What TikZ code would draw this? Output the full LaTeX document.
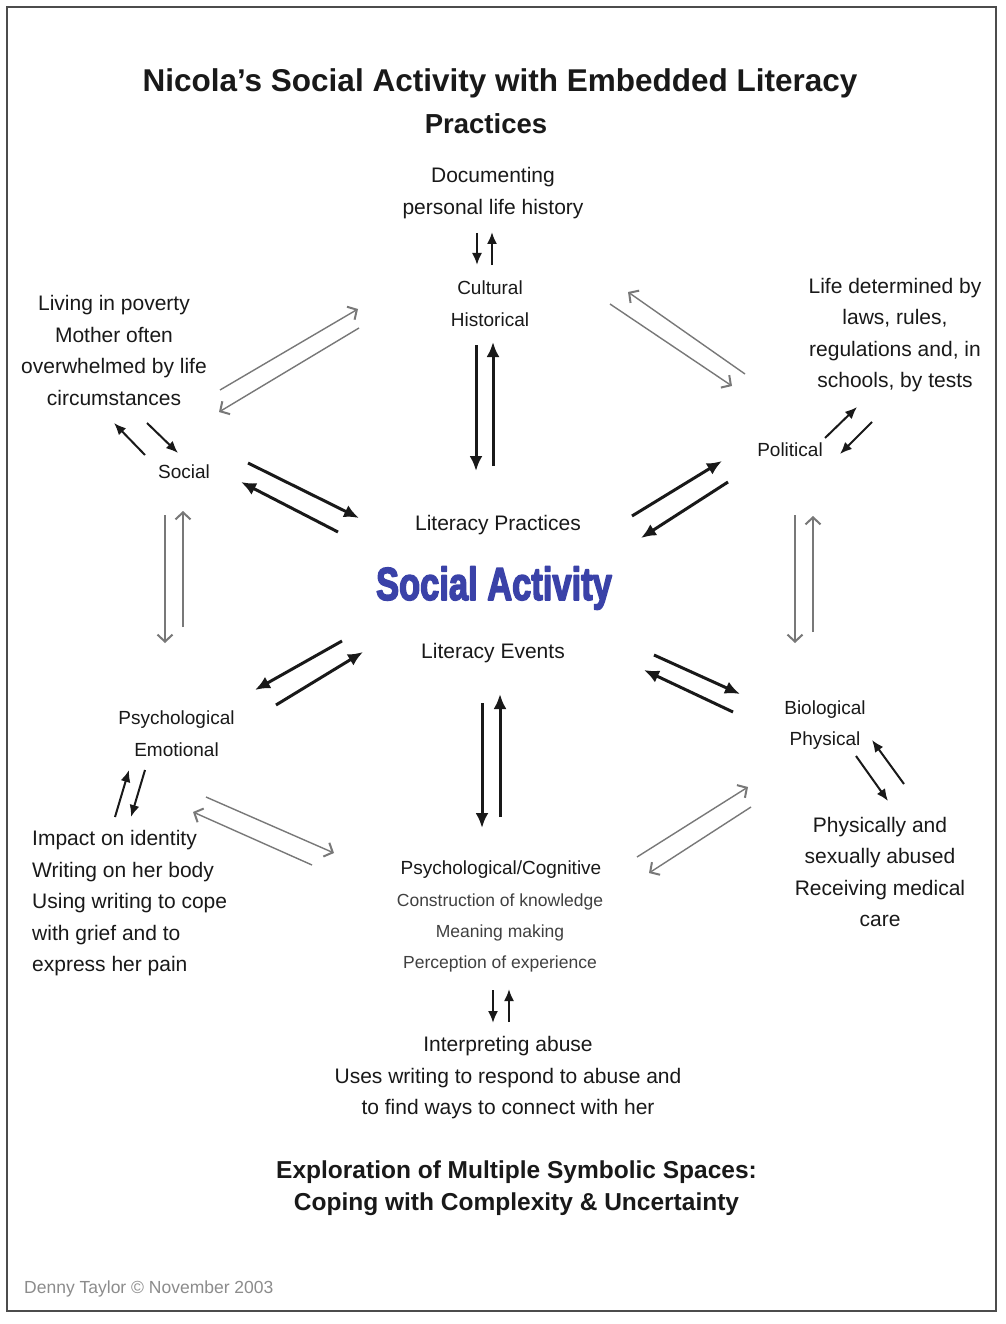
\documentclass[tikz,border=0pt]{standalone}
\usepackage{fontspec}
\setmainfont{Liberation Sans}
\usetikzlibrary{arrows.meta}
\definecolor{sablue}{RGB}{58,66,168}
\definecolor{arrgray}{RGB}{120,120,120}
\definecolor{txtcol}{RGB}{25,25,25}
\newcommand{\heavytext}[1]{\special{pdf:literal 2 Tr 1.8 w 1 j}#1\special{pdf:literal 0 Tr}}
\begin{document}
\begin{tikzpicture}[x=1pt,y=-1pt,
  txt/.style={inner sep=0pt, align=center, text=txtcol, font=\fontsize{21}{31.5}\selectfont},
  lbl/.style={inner sep=0pt, align=center, text=txtcol, font=\fontsize{19}{31.5}\selectfont},
  sub/.style={inner sep=0pt, align=center, text=black!75, font=\fontsize{17.5}{31.2}\selectfont},
  thickarr/.style={line width=3pt, draw=black!90, -{Latex[length=15pt,width=13pt]}},
  smallarr/.style={line width=2pt, draw=black!90, -{Latex[length=12pt,width=10pt]}},
  grayarr/.style={line width=1.4pt, draw=arrgray, -{Straight Barb[length=7pt,width=15pt,line width=2pt]}}
]
\useasboundingbox (0,0) rectangle (1005,1324);
\fill[white] (0,0) rectangle (1005,1324);
\draw[line width=2pt, draw=black!70] (7,7) rectangle (996,1311);

% titles
\node[inner sep=0pt, text=txtcol, font=\bfseries\fontsize{31.5}{36}\selectfont] (title1) at (500,83) {Nicola’s Social Activity with Embedded Literacy};
\node[inner sep=0pt, text=txtcol, font=\bfseries\fontsize{27.5}{32}\selectfont] (title2) at (486,124) {Practices};

% centre
\node[txt] (litprac) at (498,525) {Literacy Practices};
\node[inner sep=0pt, text=sablue, font=\bfseries\fontsize{46}{50}\selectfont, xscale=0.75] (socact) at (494,588) {\heavytext{Social Activity}};
\node[txt] (litev) at (493,653) {Literacy Events};

% top
\node[txt] (doc) at (493,193) {Documenting\\personal life history};
\node[lbl] (cult) at (490,303.5) {Cultural\\Historical};

% top left
\node[txt] (pov) at (114,350.5) {Living in poverty\\Mother often\\overwhelmed by life\\circumstances};
\node[lbl] (social) at (184,472) {Social};

% left
\node[lbl] (psych) at (176.5,733.5) {Psychological\\Emotional};
\node[txt, anchor=west, align=left] (ident) at (32,903.5) {Impact on identity\\Writing on her body\\Using writing to cope\\with grief and to\\express her pain};

% top right
\node[txt] (laws) at (895,335) {Life determined by\\laws, rules,\\regulations and, in\\schools, by tests};
\node[lbl] (pol) at (790,450) {Political};

% right
\node[lbl] (bio) at (825,725) {Biological\\Physical};
\node[txt] (abused) at (880,872) {Physically and\\sexually abused\\Receiving medical\\care};

% bottom
\node[lbl] (cog) at (501,870) {Psychological/Cognitive};
\node[sub] (cogsub) at (500,933) {Construction of knowledge\\Meaning making\\Perception of experience};
\node[txt] (interp) at (508,1078) {Interpreting abuse\\Uses writing to respond to abuse and\\to find ways to connect with her};

\node[inner sep=0pt, align=center, text=txtcol, font=\bfseries\fontsize{24.5}{32}\selectfont] (explore) at (516.5,1188) {Exploration of Multiple Symbolic Spaces:\\Coping with Complexity \& Uncertainty};

\node[inner sep=0pt, anchor=west, text=black!45, font=\fontsize{17.5}{20}\selectfont] (footer) at (24,1289) {Denny Taylor © November 2003};

% small arrows
\draw[smallarr] (477,233) coordinate (d1a) -- (477,265) coordinate (d1b);
\draw[smallarr] (492,265) coordinate (d2a) -- (492,232) coordinate (d2b);
\draw[smallarr] (145,455) coordinate (s1a) -- (114,423) coordinate (s1b);
\draw[smallarr] (147,423) coordinate (s2a) -- (178,453) coordinate (s2b);
\draw[smallarr] (115,817) coordinate (p1a) -- (129,770) coordinate (p1b);
\draw[smallarr] (145,770) coordinate (p2a) -- (131,817) coordinate (p2b);
\draw[smallarr] (825,438) coordinate (q1a) -- (857,407) coordinate (q1b);
\draw[smallarr] (872,422) coordinate (q2a) -- (840,454) coordinate (q2b);
\draw[smallarr] (904,784) coordinate (b1a) -- (872,740) coordinate (b1b);
\draw[smallarr] (856,756) coordinate (b2a) -- (888,801) coordinate (b2b);
\draw[smallarr] (493,990) coordinate (i1a) -- (493,1023) coordinate (i1b);
\draw[smallarr] (509,1022) coordinate (i2a) -- (509,989) coordinate (i2b);

% thick arrows
\draw[thickarr] (476,345) coordinate (t1a) -- (476,471) coordinate (t1b);
\draw[thickarr] (493,466) coordinate (t2a) -- (493,342) coordinate (t2b);
\draw[thickarr] (482,703) coordinate (t3a) -- (482,828) coordinate (t3b);
\draw[thickarr] (500,817) coordinate (t4a) -- (500,694) coordinate (t4b);
\draw[thickarr] (248,463) coordinate (t5a) -- (359,518) coordinate (t5b);
\draw[thickarr] (338,532) coordinate (t6a) -- (241,482) coordinate (t6b);
\draw[thickarr] (632,516) coordinate (t7a) -- (722,461) coordinate (t7b);
\draw[thickarr] (728,482) coordinate (t8a) -- (641,538) coordinate (t8b);
\draw[thickarr] (342,641) coordinate (t9a) -- (255,690) coordinate (t9b);
\draw[thickarr] (276,705) coordinate (t10a) -- (363,652) coordinate (t10b);
\draw[thickarr] (654,655) coordinate (t11a) -- (740,694) coordinate (t11b);
\draw[thickarr] (733,712) coordinate (t12a) -- (644,670) coordinate (t12b);

% gray arrows
\draw[grayarr] (220,390) coordinate (g1a) -- (358,309) coordinate (g1b);
\draw[grayarr] (359,328) coordinate (g2a) -- (219,412) coordinate (g2b);
\draw[grayarr] (745,374) coordinate (g3a) -- (628,292) coordinate (g3b);
\draw[grayarr] (610,304) coordinate (g4a) -- (732,386) coordinate (g4b);
\draw[grayarr] (165,515) coordinate (g5a) -- (165,643) coordinate (g5b);
\draw[grayarr] (183,627) coordinate (g6a) -- (183,511) coordinate (g6b);
\draw[grayarr] (795,515) coordinate (g7a) -- (795,643) coordinate (g7b);
\draw[grayarr] (813,632) coordinate (g8a) -- (813,516) coordinate (g8b);
\draw[grayarr] (206,797) coordinate (g9a) -- (334,853) coordinate (g9b);
\draw[grayarr] (312,865) coordinate (g10a) -- (193,812) coordinate (g10b);
\draw[grayarr] (637,857) coordinate (g11a) -- (748,787) coordinate (g11b);
\draw[grayarr] (751,807) coordinate (g12a) -- (649,873) coordinate (g12b);
\end{tikzpicture}
\end{document}
